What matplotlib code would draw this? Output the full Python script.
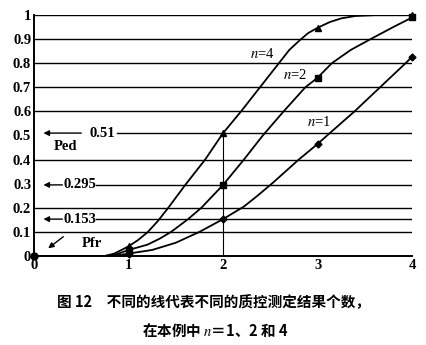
import matplotlib
matplotlib.use('Agg')
from matplotlib import pyplot as plt

# curve readings (x, probability) for each number of control results
n4_x = [0, 0.75, 0.85, 1.0, 1.1, 1.2, 1.31, 1.42, 1.61, 1.81, 2.0, 2.19,
        2.39, 2.59, 2.7, 2.81, 2.9, 3.0, 3.13, 3.25, 3.4, 3.63, 4.0]
n4_y = [0, 0.0, 0.01, 0.04, 0.066, 0.098, 0.145, 0.2, 0.3, 0.4, 0.51, 0.6,
        0.7, 0.8, 0.855, 0.895, 0.925, 0.947, 0.971, 0.986, 0.996, 1.0, 1.0]

n2_x = [0, 0.75, 0.88, 1.0, 1.2, 1.33, 1.45, 1.63, 1.77, 2.0, 2.22, 2.42,
        2.64, 2.87, 3.0, 3.15, 3.35, 3.56, 3.8, 4.0]
n2_y = [0, 0, 0.008, 0.025, 0.047, 0.072, 0.1, 0.153, 0.2, 0.295, 0.4, 0.5,
        0.6, 0.7, 0.74, 0.8, 0.855, 0.9, 0.95, 0.99]

n1_x = [0, 0.75, 0.9, 1.0, 1.25, 1.5, 1.75, 2.0, 2.22, 2.37, 2.53, 2.8,
        3.0, 3.1, 3.39, 3.66, 3.93, 4.0]
n1_y = [0, 0, 0.004, 0.01, 0.025, 0.055, 0.1, 0.153, 0.205, 0.252, 0.305,
        0.4, 0.465, 0.5, 0.6, 0.7, 0.8, 0.827]

mk_x = [1, 2, 3, 4]
n4_mk = [0.04, 0.51, 0.945, 1.0]
n2_mk = [0.025, 0.295, 0.74, 0.99]
n1_mk = [0.01, 0.153, 0.465, 0.827]

grid_levels = [0.1, 0.2, 0.4, 0.6, 0.7, 0.8, 0.9, 1.0]
marked_levels = [0.153, 0.295, 0.51]
marked_labels = ['0.153', '0.295', '0.51']

x_ticks = [0, 1, 2, 3, 4]
y_ticks = [0, 0.1, 0.2, 0.3, 0.4, 0.5, 0.6, 0.7, 0.8, 0.9, 1]
y_tick_labels = ['0', '0.1', '0.2', '0.3', '0.4', '0.5', '0.6', '0.7',
                 '0.8', '0.9', '1']

caption1 = '图 12　不同的线代表不同的质控测定结果个数，'
caption2 = '在本例中 $n$＝1、2 和 4'


def main():
    plt.rcParams['font.family'] = ['Liberation Serif', 'DejaVu Serif']
    plt.rcParams['mathtext.fontset'] = 'stix'

    fig = plt.figure(figsize=(4.27, 3.45), dpi=100)
    ax = fig.add_axes([0.0796, 0.258, 0.8857, 0.6985])

    for lv in grid_levels:
        ax.plot([0, 4], [lv, lv], c='k', lw=1.0)

    starts = [0.66, 0.66, 0.88]
    label_x = [0.31, 0.31, 0.59]
    arrow_from = [0.3, 0.3, 0.50]
    for lv, lab, s, lx, af in zip(marked_levels, marked_labels, starts,
                                  label_x, arrow_from):
        ax.plot([s, 4], [lv, lv], c='k', lw=1.0)
        ax.text(lx, lv, lab, ha='left', va='center', fontsize=10.5,
                fontweight='bold')
        ax.annotate('', xy=(0.1, lv), xytext=(af, lv),
                    arrowprops=dict(arrowstyle='-|>', color='k', lw=1.0,
                                    mutation_scale=8, shrinkA=0, shrinkB=0))

    ax.plot([2, 2], [0, 0.51], c='k', lw=0.8)

    ax.plot(n4_x, n4_y, c='k', lw=1.3)
    ax.plot(n2_x, n2_y, c='k', lw=1.3)
    ax.plot(n1_x, n1_y, c='k', lw=1.3)
    ax.plot(mk_x, n4_mk, ls='none', marker='^', ms=4.5, c='k', clip_on=False)
    ax.plot(mk_x, n2_mk, ls='none', marker='s', ms=4, c='k', clip_on=False)
    ax.plot(mk_x, n1_mk, ls='none', marker='D', ms=3.5, c='k', clip_on=False)
    ax.plot([0], [0], ls='none', marker='o', ms=5, c='k', clip_on=False,
            zorder=5)

    ax.text(2.41, 0.84, '$n$=4', ha='center', va='center', fontsize=10.5)
    ax.text(2.76, 0.75, '$n$=2', ha='center', va='center', fontsize=10.5)
    ax.text(3.01, 0.557, '$n$=1', ha='center', va='center', fontsize=10.5)
    ax.text(0.33, 0.455, 'Ped', ha='center', va='center', fontsize=10.5,
            fontweight='bold')
    ax.text(0.61, 0.052, 'Pfr', ha='center', va='center', fontsize=10.5,
            fontweight='bold')
    ax.annotate('', xy=(0.15, 0.032), xytext=(0.31, 0.08),
                arrowprops=dict(arrowstyle='-|>', color='k', lw=1.0,
                                mutation_scale=8, shrinkA=0, shrinkB=0))

    ax.set_xlim(0, 4)
    ax.set_ylim(0, 1)
    ax.set_xticks(x_ticks)
    ax.set_yticks(y_ticks)
    ax.set_yticklabels(y_tick_labels)
    ax.tick_params(length=0, labelsize=10.5, pad=2)
    for lab in ax.get_xticklabels() + ax.get_yticklabels():
        lab.set_fontweight('bold')
    ax.spines['top'].set_visible(False)
    ax.spines['right'].set_visible(False)
    ax.spines['left'].set_linewidth(1.4)
    ax.spines['bottom'].set_linewidth(1.4)

    fig.text(0.5, 0.125, caption1, ha='center', va='center', fontsize=10.5,
             fontweight='bold', family=['Noto Sans CJK SC', 'DejaVu Sans'])
    fig.text(0.505, 0.043, caption2, ha='center', va='center', fontsize=10.5,
             fontweight='bold', family=['Noto Sans CJK SC', 'DejaVu Sans'])

    fig.savefig('out.png', dpi=100)


if __name__ == "__main__":
    main()
